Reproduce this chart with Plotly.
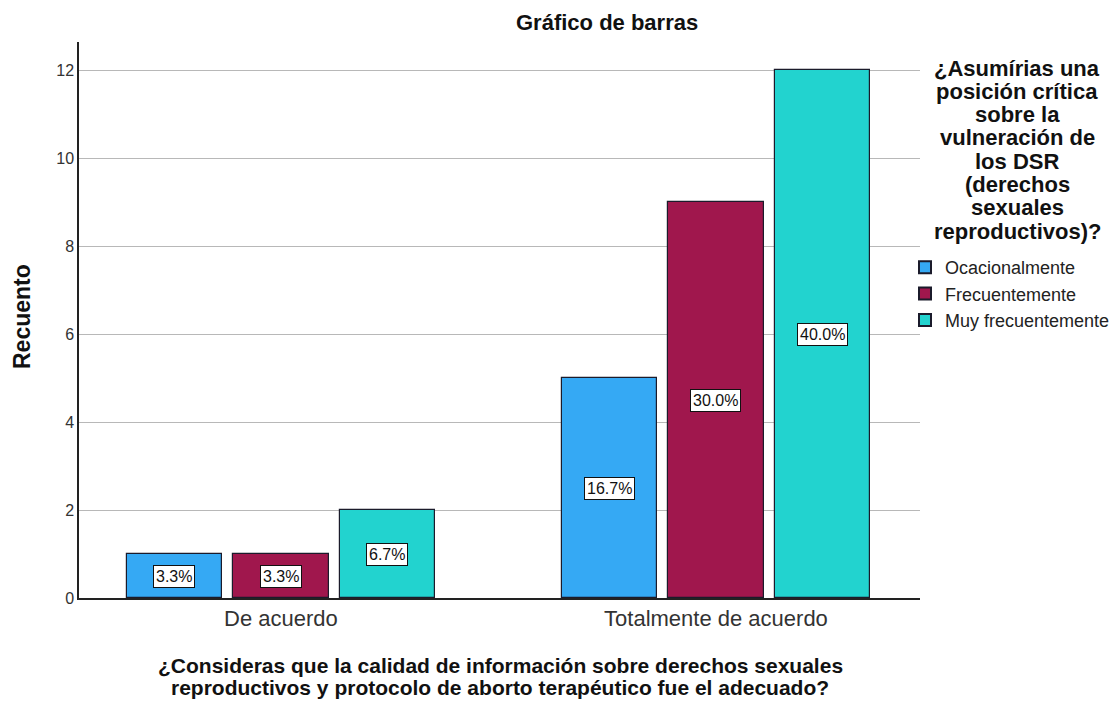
import plotly.graph_objects as go

# Data
categories = ["De acuerdo", "Totalmente de acuerdo"]
series_names = ["Ocacionalmente", "Frecuentemente", "Muy frecuentemente"]
counts = {
    "Ocacionalmente": [1, 5],
    "Frecuentemente": [1, 9],
    "Muy frecuentemente": [2, 12],
}
y_ticks = [0, 2, 4, 6, 8, 10, 12]

chart_title = "Gráfico de barras"
y_title = "Recuento"
x_title_lines = [
    "¿Consideras que la calidad de información sobre derechos sexuales",
    "reproductivos y protocolo de aborto terapéutico fue el adecuado?",
]
legend_title_lines = [
    "¿Asumírias una", "posición crítica", "sobre la", "vulneración de",
    "los DSR", "(derechos", "sexuales", "reproductivos)?",
]

colors = {
    "Ocacionalmente": "#35A9F4",
    "Frecuentemente": "#A0174D",
    "Muy frecuentemente": "#22D3CF",
}

total = sum(sum(v) for v in counts.values())
font_family = "Liberation Sans, Arial, sans-serif"

# Canvas and plot-area geometry (pixels)
W, H = 1119, 704
pl, pr, pt, pb = 79, 199, 42, 106
pw, ph = W - pl - pr, H - pt - pb


def px_to_paper(px, py):
    return (px - pl) / pw, (H - pb - py) / ph


bar_w = 0.219
offsets = [-0.245, 0.0, 0.245]

fig = go.Figure()
annotations = []
for name, off in zip(series_names, offsets):
    xs = [i + off for i in range(len(categories))]
    fig.add_trace(go.Bar(
        name=name,
        x=xs,
        y=counts[name],
        width=bar_w,
        marker=dict(color=colors[name], line=dict(color="#1b1b2b", width=1.2)),
        hoverinfo="y+name",
    ))
    # percentage boxes at the middle of each bar
    for x, v in zip(xs, counts[name]):
        annotations.append(dict(
            x=x, y=v / 2, xref="x", yref="y",
            text=f"{v / total * 100:.1f}%",
            showarrow=False,
            font=dict(family=font_family, size=16, color="#111"),
            bgcolor="white", bordercolor="#111", borderwidth=1, borderpad=2,
        ))

# Chart title
tx, ty = px_to_paper(607, 22)
annotations.append(dict(
    x=tx, y=ty, xref="paper", yref="paper", xanchor="center", yanchor="middle",
    text=f"<b>{chart_title}</b>", showarrow=False,
    font=dict(family=font_family, size=22, color="#111"),
))

# Y axis title
yx, yy = px_to_paper(22, 317)
annotations.append(dict(
    x=yx, y=yy, xref="paper", yref="paper", xanchor="center", yanchor="middle",
    text=f"<b>{y_title}</b>", showarrow=False, textangle=-90,
    font=dict(family=font_family, size=23, color="#111"),
))

# X axis title, one annotation per line for tight spacing
for k, line in enumerate(x_title_lines):
    ax, ay = px_to_paper(500, 665 + 23 * k)
    annotations.append(dict(
        x=ax, y=ay, xref="paper", yref="paper", xanchor="center", yanchor="middle",
        text=f"<b>{line}</b>", showarrow=False,
        font=dict(family=font_family, size=21, color="#111"),
    ))

# Legend heading, centered lines
for k, line in enumerate(legend_title_lines):
    lx, ly = px_to_paper(1017, 68 + 23.3 * k)
    annotations.append(dict(
        x=lx, y=ly, xref="paper", yref="paper", xanchor="center", yanchor="middle",
        text=f"<b>{line}</b>", showarrow=False,
        font=dict(family=font_family, size=22, color="#111"),
    ))

gx, gy = px_to_paper(905, 249)

fig.update_layout(
    width=W, height=H,
    margin=dict(l=pl, r=pr, t=pt, b=pb, autoexpand=False),
    paper_bgcolor="white", plot_bgcolor="white",
    showlegend=True,
    barmode="overlay",
    legend=dict(
        x=gx, y=gy, xanchor="left", yanchor="top",
        font=dict(family=font_family, size=18, color="#222"),
        itemsizing="constant", tracegroupgap=0, itemwidth=30,
        bgcolor="rgba(0,0,0,0)",
    ),
    xaxis=dict(
        range=[-0.464, 1.469],
        tickmode="array", tickvals=list(range(len(categories))), ticktext=categories,
        tickfont=dict(family=font_family, size=22, color="#333"),
        showgrid=False, zeroline=False,
        showline=True, linecolor="#222", linewidth=1.5,
        ticks="", ticklen=0,
    ),
    yaxis=dict(
        range=[0, 12.64],
        tickmode="array", tickvals=y_ticks,
        tickfont=dict(family=font_family, size=16, color="#333"),
        showgrid=True, gridcolor="#b8b8b8", gridwidth=1,
        zeroline=False,
        showline=True, linecolor="#222", linewidth=1.5,
        ticks="", ticklen=0,
    ),
    annotations=annotations,
    bargap=0,
)

fig.write_html("out.html")
